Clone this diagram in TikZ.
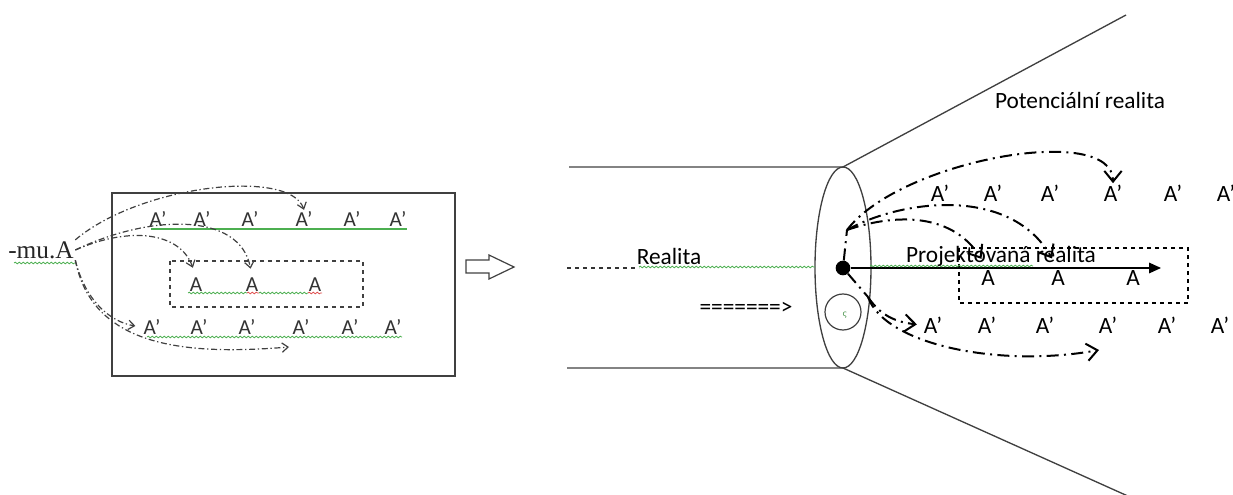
\documentclass[tikz,border=0pt]{standalone}
\usepackage{fontspec}
\usepackage{tikz}
\usetikzlibrary{arrows.meta, decorations.pathmorphing}
\newfontfamily\calib{Carlito}
\newfontfamily\tms{Liberation Serif}
\newfontfamily\dejavu{DejaVu Sans}
\definecolor{spellgreen}{HTML}{4CAF50}
\definecolor{spellred}{HTML}{E05050}
\definecolor{outline}{HTML}{404040}

\tikzset{
  rtxt/.style={font=\calib\fontsize{17.5}{20}\selectfont, text=black, inner sep=1pt},
  ltxt/.style={font=\calib\fontsize{16}{19}\selectfont, text=black!80, inner sep=1pt},
  rline/.style={line width=1.5pt, dash pattern=on 9pt off 4pt on 1.5pt off 4pt},
  rflow/.style={rline, -{Straight Barb[length=8pt, width=13pt, line width=1.5pt]}},
  lline/.style={black!75, line width=0.9pt, dash pattern=on 4.5pt off 2pt on 1pt off 2pt},
  lflow/.style={lline, -{Straight Barb[length=4.5pt, width=7pt]}},
  squig/.style={decorate, decoration={snake, amplitude=0.6pt, segment length=3pt}, line width=0.6pt},
}

\begin{document}
\begin{tikzpicture}[x=0.75pt, y=-0.75pt]
  \useasboundingbox (0,0) rectangle (1233,495);

  % left panel: the word and its three rows
  \draw[outline, line width=1.1pt] (112,193) rectangle (455,376);
  \draw[outline, line width=1pt, dashed] (170,261) rectangle (363,307);
  \node[font=\tms\fontsize{19}{22}\selectfont, text=black!85, inner sep=1pt] (mu) at (41,250) {-mu.A};
  \draw[spellgreen, squig] (14,263) -- (76,263);

  \foreach \xc [count=\i] in {158, 202, 250, 304, 352, 398}
    \node[ltxt] (lt\i) at (\xc,219) {A’};
  \foreach \xc [count=\i] in {196, 252, 315}
    \node[ltxt] (lm\i) at (\xc,285) {A};
  \foreach \xc [count=\i] in {152, 199, 247, 301, 350, 393}
    \node[ltxt] (lb\i) at (\xc,327) {A’};

  \draw[spellgreen, line width=1.5pt] (151,229) -- (407,229);
  \draw[spellgreen, squig] (147,337) -- (402,337);
  \draw[spellgreen, squig] (188,293) -- (247,293);
  \draw[spellred, squig] (247,293) -- (259,293);
  \draw[spellgreen, squig] (259,293) -- (308,293);
  \draw[spellred, squig] (308,293) -- (322,293);

  \coordinate (lend) at (289,347);
  \draw[lflow] (mu.north east) .. controls (140,185) and (290,168) .. (lt4.north);
  \draw[lflow, shorten >=6pt] (mu.east) .. controls (150,214) and (240,212) .. (lm2.north);
  \draw[lflow, shorten >=7pt] (mu.east) .. controls (130,226) and (180,232) .. (lm1.north);
  \draw[lflow, shorten >=5pt] (mu.south east) .. controls (85,300) and (110,322) .. (lb1.west);
  \draw[lflow] (mu.south east) .. controls (92,345) and (180,356) .. (lend);

  % hollow arrow between the panels
  \draw[outline, line width=0.9pt] (466,260) -- (489,260) -- (489,255) -- (514,267)
    -- (489,279) -- (489,273) -- (466,273) -- cycle;

  % right panel: tube, cone and the section through it
  \draw[outline, line width=1pt] (569,167) -- (843,167) -- (1126,15);
  \draw[outline, line width=1pt] (567,368) -- (843,368) -- (1130,497);
  \draw[outline, line width=1pt] (843,267.5) ellipse [x radius=28, y radius=100.5];
  \draw[outline, line width=0.9pt] (843,312) circle [radius=18];
  \node[font=\dejavu\fontsize{6}{6}\selectfont, text=spellgreen!80!black, inner sep=0pt] (sig) at (845,315) {ς};

  \draw[black!80, line width=0.9pt, dashed] (567,268) -- (639,268);
  \draw[spellgreen, squig] (639,267) -- (815,267);
  \node[rtxt] (real) at (669,256) {Realita};
  \node[rtxt] (potreal) at (1080,100) {Potenciální realita};
  \node[rtxt] (eqarrow) at (746,308) {=======>};

  \draw[black, line width=1pt, dashed] (959,248) rectangle (1188,303);
  \foreach \xc [count=\i] in {940, 993, 1050, 1113, 1173, 1226}
    \node[rtxt] (rt\i) at (\xc,193) {A’};
  \foreach \xc [count=\i] in {988, 1058, 1133}
    \node[rtxt] (rm\i) at (\xc,278) {A};
  \foreach \xc [count=\i] in {933, 987, 1045, 1108, 1167, 1220}
    \node[rtxt] (rb\i) at (\xc,325) {A’};

  \node[circle, fill=black, inner sep=0pt, minimum size=11pt] (dot) at (843,268) {};
  \coordinate (projend) at (1161,268);
  \draw[black, line width=0.9pt, -{Triangle[length=9pt, width=8pt]}] (dot.east) -- (projend);
  \draw[spellgreen, squig] (870,266) -- (1033,266);
  \node[rtxt] (proj) at (1001,256) {Projektovaná realita};

  % projections out of the point
  \coordinate (upfork) at (847,230);
  \coordinate (downfork) at (868,297);
  \coordinate (rend) at (1099,350);
  \draw[rline] (dot) -- (upfork);
  \draw[rline] (dot) -- (downfork);
  \draw[rflow] (upfork) .. controls (900,160) and (1113,122) .. (rt4.north);
  \draw[rflow, shorten >=9pt] (upfork) .. controls (900,200) and (1010,185) .. (rm2.north);
  \draw[rflow, shorten >=9pt] (upfork) .. controls (890,215) and (950,210) .. (rm1.north);
  \draw[rflow, shorten >=4pt] (downfork) .. controls (880,315) and (895,322) .. (rb1.west);
  \draw[rflow] (downfork) .. controls (885,345) and (1000,368) .. (rend);
\end{tikzpicture}
\end{document}
